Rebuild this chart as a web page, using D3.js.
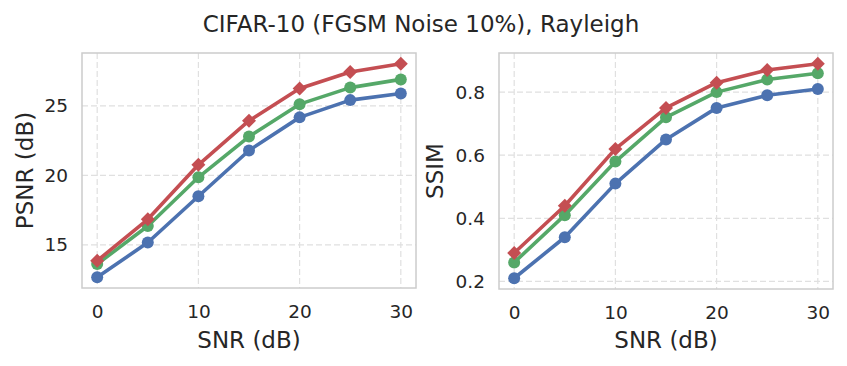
<!DOCTYPE html>
<html lang="en">
<head>
<meta charset="UTF-8">
<title>CIFAR-10 Rayleigh</title>
<script src="https://d3js.org/d3.v7.min.js"></script>
<style>
  body { margin: 0; background: #fff; font-family: "DejaVu Sans", sans-serif; }
  .grid line { stroke: #e0e0e0; stroke-dasharray: 6,3; stroke-width: 1.2; }
</style>
</head>
<body>
<div id="chart"></div>
<script>
    const snr = [0, 5, 10, 15, 20, 25, 30];
    const xTicks = [0, 10, 20, 30];

    // PSNR (dB)
    const psnrBlue  = [12.67, 15.17, 18.50, 21.79, 24.17, 25.41, 25.89];
    const psnrGreen = [13.62, 16.36, 19.86, 22.79, 25.12, 26.31, 26.90];
    const psnrRed   = [13.86, 16.84, 20.76, 23.93, 26.24, 27.43, 28.03];
    const psnrTicks = [15, 20, 25];

    // SSIM
    const ssimBlue  = [0.21, 0.34, 0.51, 0.65, 0.75, 0.79, 0.81];
    const ssimGreen = [0.26, 0.41, 0.58, 0.72, 0.80, 0.84, 0.86];
    const ssimRed   = [0.29, 0.44, 0.62, 0.75, 0.83, 0.87, 0.89];
    const ssimTicks = [0.2, 0.4, 0.6, 0.8];

    const colors = { blue: "#4C72B0", green: "#55A868", red: "#C44E52" };
    const textColor = "#262626";

    const svg = d3.select("#chart").append("svg")
        .attr("width", 847).attr("height", 366);

    svg.append("text")
        .attr("x", 421).attr("y", 32)
        .attr("text-anchor", "middle")
        .attr("font-size", "23px")
        .attr("fill", textColor)
        .text("CIFAR-10 (FGSM Noise 10%), Rayleigh");

    function panel(opts) {
        const { left, right, top, bottom, series, yTicks, yLabel, fmt, labelX } = opts;
        const all = series.flatMap(s => s.values);
        const ymin = d3.min(all), ymax = d3.max(all);
        const pad = (ymax - ymin) * 0.05;

        const x = d3.scaleLinear().domain([-1.5, 31.5]).range([left, right]);
        const y = d3.scaleLinear().domain([ymin - pad, ymax + pad]).range([bottom, top]);

        const g = svg.append("g");

        // grid
        g.append("g").attr("class", "grid")
            .selectAll("line").data(xTicks).join("line")
            .attr("x1", d => x(d)).attr("x2", d => x(d))
            .attr("y1", top).attr("y2", bottom);
        g.append("g").attr("class", "grid")
            .selectAll("line").data(yTicks).join("line")
            .attr("x1", left).attr("x2", right)
            .attr("y1", d => y(d)).attr("y2", d => y(d));

        // frame
        g.append("rect")
            .attr("x", left).attr("y", top)
            .attr("width", right - left).attr("height", bottom - top)
            .attr("fill", "none").attr("stroke", "#cccccc").attr("stroke-width", 1.5);

        // axes
        g.append("g")
            .attr("transform", `translate(0,${bottom})`)
            .call(d3.axisBottom(x).tickValues(xTicks).tickSize(0).tickPadding(17))
            .attr("font-size", "18.5px").attr("font-family", "DejaVu Sans")
            .call(a => a.select(".domain").remove())
            .call(a => a.selectAll("text").attr("fill", textColor));
        g.append("g")
            .attr("transform", `translate(${left},0)`)
            .call(d3.axisLeft(y).tickValues(yTicks).tickFormat(fmt).tickSize(0).tickPadding(14))
            .attr("font-size", "18.5px").attr("font-family", "DejaVu Sans")
            .call(a => a.select(".domain").remove())
            .call(a => a.selectAll("text").attr("fill", textColor));

        g.append("text")
            .attr("x", (left + right) / 2).attr("y", 348)
            .attr("text-anchor", "middle")
            .attr("font-size", "23px").attr("fill", textColor)
            .text("SNR (dB)");
        g.append("text")
            .attr("transform", `translate(${labelX},${(top + bottom) / 2}) rotate(-90)`)
            .attr("text-anchor", "middle")
            .attr("font-size", "23px").attr("fill", textColor)
            .text(yLabel);

        const line = d3.line().x((d, i) => x(snr[i])).y(d => y(d));

        series.forEach(s => {
            g.append("path")
                .datum(s.values)
                .attr("fill", "none")
                .attr("stroke", s.color)
                .attr("stroke-width", 3.6)
                .attr("stroke-linejoin", "round")
                .attr("d", line);
            if (s.diamond) {
                g.selectAll(null).data(s.values).join("path")
                    .attr("d", d3.symbol().type(d3.symbolSquare).size(98))
                    .attr("transform", (d, i) => `translate(${x(snr[i])},${y(d)}) rotate(45)`)
                    .attr("fill", s.color);
            } else {
                g.selectAll(null).data(s.values).join("circle")
                    .attr("cx", (d, i) => x(snr[i]))
                    .attr("cy", d => y(d))
                    .attr("r", 6)
                    .attr("fill", s.color);
            }
        });
    }

    panel({
        left: 82, right: 416, top: 53, bottom: 288, labelX: 33,
        yLabel: "PSNR (dB)", yTicks: psnrTicks, fmt: d3.format("d"),
        series: [
            { values: psnrBlue, color: colors.blue },
            { values: psnrGreen, color: colors.green },
            { values: psnrRed, color: colors.red, diamond: true }
        ]
    });

    panel({
        left: 499, right: 833, top: 53, bottom: 289, labelX: 443,
        yLabel: "SSIM", yTicks: ssimTicks, fmt: d3.format(".1f"),
        series: [
            { values: ssimBlue, color: colors.blue },
            { values: ssimGreen, color: colors.green },
            { values: ssimRed, color: colors.red, diamond: true }
        ]
    });
</script>
</body>
</html>
